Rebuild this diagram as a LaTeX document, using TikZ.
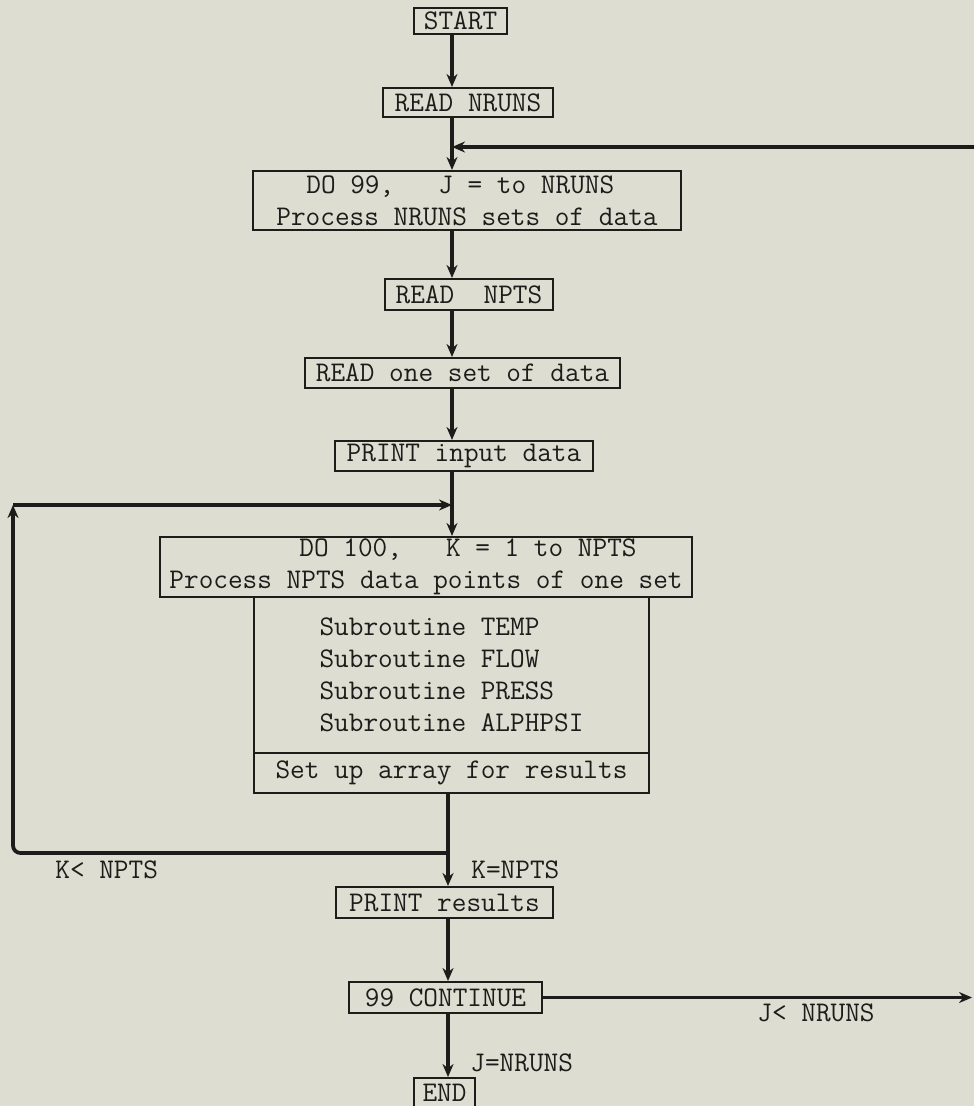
\documentclass[tikz,border=0pt]{standalone}
\usetikzlibrary{arrows.meta}

\definecolor{paper}{RGB}{221,222,209}
\definecolor{ink}{RGB}{28,28,26}
\newcommand{\tyfont}{\ttfamily\fontsize{16.2}{18.2}\selectfont}

\begin{document}
\begin{tikzpicture}[x=0.2mm,y=-0.2mm,>=Stealth,
    box/.style={draw=ink,line width=0.4mm,inner sep=0pt,font=\tyfont,text=ink},
    flow/.style={draw=ink,line width=0.75mm,-{Stealth[length=2.6mm,width=2.2mm]}},
    lbl/.style={font=\tyfont,text=ink,anchor=west,inner sep=0pt}]
    \useasboundingbox (0,0) rectangle (974,1106);
    \fill[paper] (0,0) rectangle (974,1106);

    % Boxes
    \node[box,minimum width=18.6mm,minimum height=5.2mm] (start) at (460.5,21) {START};
    \node[box,minimum width=34mm,minimum height=5.8mm] (rdruns) at (468,102.5) {READ NRUNS};
    \node[box,minimum width=85.6mm,minimum height=11.8mm,align=left] (do99) at (467,200.5)
        {\hspace*{6mm}DO 99,~~~J = to NRUNS\\Process NRUNS sets of data};
    \node[box,minimum width=33.6mm,minimum height=6.2mm] (rdnpts) at (469,294.5) {READ~~NPTS};
    \node[box,minimum width=63mm,minimum height=6mm] (rdset) at (462.5,373) {READ one set of data};
    \node[box,minimum width=51.6mm,minimum height=6mm] (prtin) at (464,456) {PRINT input data};
    \node[box,minimum width=106.4mm,minimum height=12mm,align=left] (do100) at (426,567)
        {\hspace*{26mm}DO 100,~~~K = 1 to NPTS\\Process NPTS data points of one set};
    \node[box,minimum width=79mm,minimum height=31.2mm,align=left] (subs) at (451.5,675)
        {Subroutine TEMP\\Subroutine FLOW\\Subroutine PRESS\\Subroutine ALPHPSI};
    \node[box,minimum width=79mm,minimum height=8mm] (setup) at (451.5,773) {Set up array for results};
    \node[box,minimum width=43.4mm,minimum height=6.2mm] (prtres) at (444.5,902.5) {PRINT results};
    \node[box,minimum width=38.6mm,minimum height=6.2mm] (cont) at (445.5,997.5) {99 CONTINUE};
    \node[box,minimum width=12.2mm,minimum height=6mm] (endn) at (444.5,1093) {END};

    % Main line
    \coordinate (spA) at (452,0);
    \coordinate (spB) at (448,0);
    \draw[flow] (start.south -| spA) -- (rdruns.north -| spA);
    \draw[flow] (rdruns.south -| spA) -- (do99.north -| spA);
    \draw[flow] (do99.south -| spA) -- (rdnpts.north -| spA);
    \draw[flow] (rdnpts.south -| spA) -- (rdset.north -| spA);
    \draw[flow] (rdset.south -| spA) -- (prtin.north -| spA);
    \draw[flow] (prtin.south -| spA) -- (do100.north -| spA);
    \draw[flow] (setup.south -| spB) -- (prtres.north -| spB);
    \draw[flow] (prtres.south -| spB) -- (cont.north -| spB);
    \draw[flow] (cont.south -| spB) -- (endn.north -| spB);

    % J loop (runs off the right edge)
    \coordinate (jout) at (972,998);
    \coordinate (jback) at (974,147);
    \coordinate (jin) at (452,147);
    \draw[flow] (cont.east) -- (cont.east -| jout);
    \draw[flow] (jback) -- (jin);

    % K loop
    \coordinate (kbr) at (448,853);
    \coordinate (kup) at (13,505);
    \coordinate (kin) at (452,505);
    \draw[flow,rounded corners=1.5mm] (kbr) -| (kup);
    \draw[flow] (kup) -- (kin);

    % Branch labels
    \node[lbl] (klt) at (55,870) {K< NPTS};
    \node[lbl] (keq) at (471,870) {K=NPTS};
    \node[lbl] (jlt) at (757,1013) {J< NRUNS};
    \node[lbl] (jeq) at (470,1063) {J=NRUNS};
\end{tikzpicture}
\end{document}
